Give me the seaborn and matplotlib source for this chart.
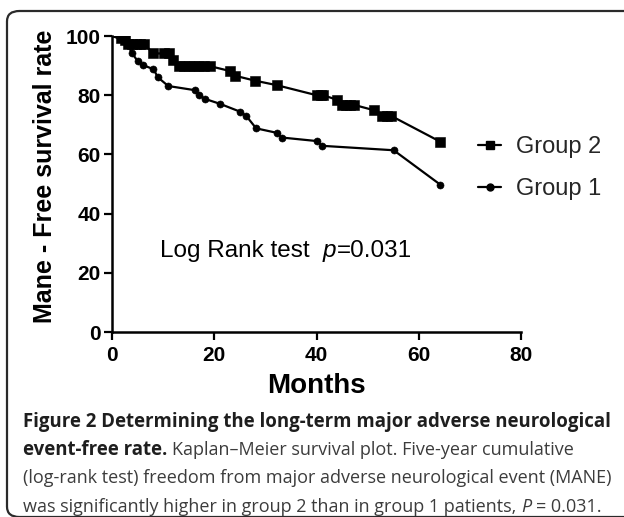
import matplotlib
matplotlib.use("Agg")
import matplotlib.pyplot as plt
from matplotlib.lines import Line2D
from matplotlib.patches import FancyBboxPatch
import pandas as pd
import seaborn as sns

# Kaplan-Meier points (months, % free of MANE)
g2_months = [0, 1.8, 2.5, 3.2, 3.9, 4.6, 5.4, 6.2, 8.1, 10.1, 11.1, 12.0, 13.1,
             14.0, 15.0, 16.0, 17.0, 18.0, 19.2, 23.0, 24.0, 28.0, 32.2, 40.0,
             40.8, 41.3, 44.1, 45.0, 45.8, 46.6, 47.4, 51.3, 52.9, 53.7, 54.5, 64.2]
g2_rate = [100, 99.2, 98.6, 97.4, 97.4, 97.4, 97.4, 97.4, 94.1, 94.1, 94.1, 91.9, 89.8,
           89.8, 89.8, 89.8, 89.8, 89.8, 89.8, 88.2, 86.6, 84.9, 83.4, 80.0,
           80.0, 80.0, 78.4, 76.7, 76.7, 76.7, 76.7, 74.9, 73.1, 73.1, 73.1, 64.3]

g1_months = [0, 2.7, 3.9, 5.0, 6.0, 8.1, 9.0, 11.0, 16.2, 17.1, 18.1, 21.1, 25.1,
             26.3, 28.2, 32.2, 33.2, 40.1, 41.1, 55.1, 64.2]
g1_rate = [100, 98.4, 94.2, 91.6, 90.2, 88.8, 86.0, 83.1, 81.7, 80.0, 78.8, 77.1, 74.4,
           72.9, 68.8, 67.3, 65.7, 64.5, 62.9, 61.4, 49.8]

x_ticks = [0, 20, 40, 60, 80]
y_ticks = [0, 20, 40, 60, 80, 100]

caption_lines = [
    [("Figure 2 Determining the long-term major adverse neurological", "bold")],
    [("event-free rate.", "bold"), (" Kaplan\u2013Meier survival plot. Five-year cumulative", "regular")],
    [("(log-rank test) freedom from major adverse neurological event (MANE)", "regular")],
    [("was significantly higher in group 2 than in group 1 patients, ", "regular"),
     ("P", "italic"), (" = 0.031.", "regular")],
]

sns.set_theme(style="ticks")
plt.rcParams['font.family'] = ['Liberation Sans', 'DejaVu Sans']

W, H = 624, 517
fig = plt.figure(figsize=(W / 100, H / 100), dpi=100)
fig.patch.set_facecolor('white')

# axes placed in pixel terms of the reference
ax = fig.add_axes([112 / W, 1 - 332 / H, (521 - 112) / W, (332 - 36) / H])
ax.set_facecolor('white')

df2 = pd.DataFrame({'Months': g2_months, 'Rate': g2_rate})
df1 = pd.DataFrame({'Months': g1_months, 'Rate': g1_rate})

for df, mk, ms in [(df2, 's', 44), (df1, 'o', 26)]:
    sns.lineplot(data=df, x='Months', y='Rate', color='black', lw=1.6, sort=False,
                 estimator=None, ax=ax, legend=False)
    sns.scatterplot(data=df.iloc[1:], x='Months', y='Rate', marker=mk, s=ms,
                    color='black', edgecolor='black', linewidth=0.4, ax=ax,
                    legend=False, zorder=3)

ax.set_xlim(0, 80)
ax.set_ylim(0, 100)
ax.set_xticks(x_ticks, labels=[str(t) for t in x_ticks], fontsize=15, fontweight='bold')
ax.set_yticks(y_ticks, labels=[str(t) for t in y_ticks], fontsize=15, fontweight='bold')
ax.tick_params(direction='out', length=6, width=1.6, color='black', labelcolor='black')
ax.tick_params(axis='x', pad=4)
ax.tick_params(axis='y', pad=2)
sns.despine(ax=ax)
for side in ['left', 'bottom']:
    ax.spines[side].set_linewidth(1.8)
    ax.spines[side].set_color('black')

ax.set_xlabel('Months', fontsize=20, fontweight='bold', color='black')
ax.xaxis.label.set_va('baseline')
ax.xaxis.set_label_coords(0.5, -(393 - 332) / (332 - 36))
ax.set_ylabel('Mane - Free survival rate', fontsize=18, fontweight='bold', color='black')
ax.yaxis.set_label_coords(-(112 - 57) / (521 - 112), (332 - 176) / (332 - 36))

handles = [Line2D([], [], color='black', lw=1.6, marker='s', markersize=6),
           Line2D([], [], color='black', lw=1.6, marker='o', markersize=5)]
fig.legend(handles, ['Group 2', 'Group 1'], loc='upper left',
           bbox_to_anchor=(466 / W, 1 - 124 / H), frameon=False, fontsize=17,
           handlelength=1.0, handletextpad=0.6, labelspacing=0.85, borderpad=0)

fig.canvas.draw()
renderer = fig.canvas.get_renderer()


def chain(parts, x0, y0, sizes, family, colors, space):
    # lay text pieces side by side, x0/y0 in reference pixels (baseline)
    x = x0
    for s, style in parts:
        weight = 'bold' if style == 'bold' else 'normal'
        fstyle = 'italic' if style == 'italic' else 'normal'
        lead = len(s) - len(s.lstrip(' '))
        trail = len(s) - len(s.rstrip(' '))
        x += lead * space
        t = fig.text(x / W, 1 - y0 / H, s.strip(' '), fontweight=weight, fontstyle=fstyle,
                     va='baseline', ha='left', fontsize=sizes[style],
                     family=family, color=colors[style])
        bb = t.get_window_extent(renderer)
        x = bb.x1 + trail * space
    return x


# Log rank annotation
chain([("Log Rank test  ", "regular"), ("p", "italic"), ("=0.031", "regular")],
      160, 257, sizes={'regular': 17.5, 'italic': 17.5},
      family=['Liberation Sans', 'DejaVu Sans'],
      colors={'regular': 'black', 'italic': 'black'}, space=6.7)


# caption, font sizes fitted to the reference line widths
cap_family = ['Open Sans', 'DejaVu Sans']


def width_at(s, weight, size=15):
    probe = fig.text(0, 0, s, fontweight=weight, fontsize=size, family=cap_family)
    w = probe.get_window_extent(renderer).width
    probe.remove()
    return w


bold_size = 15 * (612 - 23) / width_at(caption_lines[0][0][0], 'bold')
reg_size = 15 * (612 - 23) / width_at(caption_lines[2][0][0], 'normal')
space_px = reg_size * 100 / 72 * 0.26
cap_sizes = {'bold': bold_size, 'regular': reg_size, 'italic': reg_size}
cap_colors = {'bold': '#1e1e1e', 'regular': '#3c3c3c', 'italic': '#3c3c3c'}
for i, line in enumerate(caption_lines):
    chain(line, 23, 426.7 + i * 28.3, cap_sizes, cap_family, cap_colors, space_px)

# rounded frame, only top/left visible like the reference
frame = FancyBboxPatch((7 / W, 1 - 517 / H), (640 - 7) / W, (517 - 11) / H,
                       boxstyle='round,pad=0,rounding_size=0.02',
                       transform=fig.transFigure, fill=False,
                       edgecolor='#2a2a2a', lw=1.6, clip_on=False)
fig.patches.append(frame)

fig.savefig('out.png', dpi=100, facecolor='white')
